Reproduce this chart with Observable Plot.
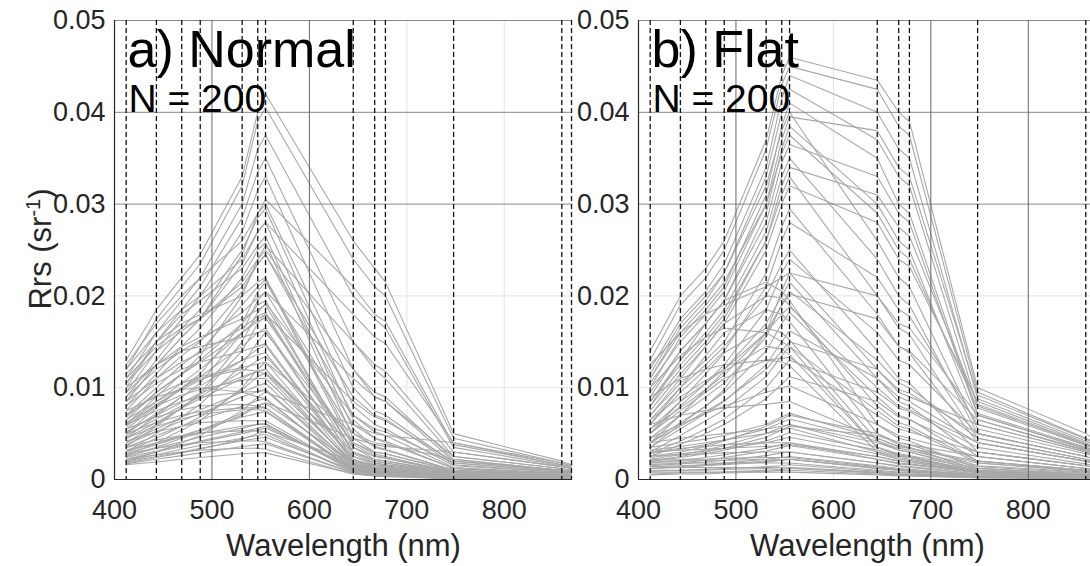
<!DOCTYPE html>
<html>
<head>
<meta charset="utf-8">
<script src="https://cdn.jsdelivr.net/npm/d3@7"></script>
<script src="https://cdn.jsdelivr.net/npm/@observablehq/plot@0.6"></script>
<style>
  html, body { margin: 0; padding: 0; background: #fff; overflow: hidden; }
  #wrap { position: relative; width: 1100px; height: 566px; display: flex; font-family: "Liberation Sans", Arial, Helvetica, sans-serif; }
  #ylab { position: absolute; left: 40px; top: 249px; transform: translate(-50%, -50%) rotate(-90deg); transform-origin: center; font-size: 31px; color: #262626; white-space: nowrap; line-height: 1; }
  #ylab sup { font-size: 20px; vertical-align: 0.55em; line-height: 0; }
</style>
</head>
<body>
<div id="wrap"><div id="ylab">Rrs (sr<sup>-1</sup>)</div></div>
<script>
// MODIS band centres (nm), marked by dashed lines
const wavelengths = [412, 443, 469, 488, 531, 547, 555, 645, 667, 678, 748, 859, 869];
const xTicks = [400, 500, 600, 700, 800];
const yTicks = [0, 0.01, 0.02, 0.03, 0.04, 0.05];
const panelTitles = ["a) Normal", "b) Flat"];
const sampleLabel = "N = 200";

// a) Normal spectra, Rrs (sr^-1) at each band
const normalSpectra = [
  [0.0130,0.0185,0.0220,0.0245,0.0330,0.0400,0.0420,0.0260,0.0230,0.0215,0.0050,0.0020,0.0016],
  [0.0120,0.0175,0.0210,0.0235,0.0320,0.0390,0.0405,0.0240,0.0210,0.0200,0.0045,0.0018,0.0015],
  [0.0110,0.0160,0.0195,0.0220,0.0300,0.0360,0.0375,0.0200,0.0175,0.0165,0.0035,0.0015,0.0012],
  [0.0100,0.0150,0.0185,0.0210,0.0285,0.0335,0.0350,0.0150,0.0120,0.0110,0.0025,0.0012,0.0010],
  [0.0095,0.0140,0.0175,0.0200,0.0270,0.0315,0.0330,0.0120,0.0090,0.0085,0.0020,0.0010,0.0009],
  [0.0125,0.0170,0.0200,0.0220,0.0260,0.0290,0.0300,0.0100,0.0075,0.0070,0.0018,0.0009,0.0008],
  [0.0090,0.0130,0.0165,0.0185,0.0250,0.0285,0.0295,0.0080,0.0060,0.0055,0.0015,0.0008,0.0007],
  [0.0085,0.0125,0.0155,0.0175,0.0235,0.0270,0.0280,0.0065,0.0045,0.0040,0.0012,0.0007,0.0006],
  [0.0105,0.0150,0.0180,0.0195,0.0230,0.0255,0.0265,0.0055,0.0035,0.0032,0.0010,0.0006,0.0005],
  [0.0080,0.0115,0.0145,0.0165,0.0220,0.0250,0.0258,0.0045,0.0030,0.0028,0.0009,0.0005,0.0004],
  [0.0115,0.0150,0.0170,0.0180,0.0200,0.0215,0.0220,0.0040,0.0028,0.0025,0.0008,0.0005,0.0004],
  [0.0070,0.0100,0.0125,0.0140,0.0190,0.0210,0.0218,0.0035,0.0022,0.0020,0.0007,0.0004,0.0004],
  [0.0095,0.0125,0.0145,0.0155,0.0175,0.0185,0.0190,0.0030,0.0020,0.0018,0.0007,0.0004,0.0003],
  [0.0065,0.0095,0.0115,0.0130,0.0170,0.0190,0.0195,0.0028,0.0018,0.0016,0.0006,0.0004,0.0003],
  [0.0060,0.0085,0.0105,0.0120,0.0160,0.0175,0.0180,0.0025,0.0016,0.0015,0.0006,0.0003,0.0003],
  [0.0100,0.0125,0.0140,0.0145,0.0155,0.0160,0.0162,0.0022,0.0015,0.0014,0.0005,0.0003,0.0003],
  [0.0055,0.0080,0.0100,0.0112,0.0145,0.0160,0.0165,0.0022,0.0014,0.0013,0.0005,0.0003,0.0002],
  [0.0080,0.0105,0.0120,0.0128,0.0140,0.0145,0.0148,0.0020,0.0013,0.0012,0.0005,0.0003,0.0002],
  [0.0050,0.0072,0.0090,0.0102,0.0130,0.0142,0.0146,0.0018,0.0012,0.0011,0.0004,0.0002,0.0002],
  [0.0070,0.0092,0.0105,0.0112,0.0122,0.0126,0.0128,0.0017,0.0011,0.0010,0.0004,0.0002,0.0002],
  [0.0060,0.0090,0.0115,0.0135,0.0200,0.0240,0.0255,0.0150,0.0125,0.0118,0.0030,0.0014,0.0012],
  [0.0045,0.0070,0.0090,0.0105,0.0160,0.0195,0.0205,0.0110,0.0090,0.0085,0.0025,0.0012,0.0010],
  [0.0040,0.0060,0.0078,0.0092,0.0140,0.0170,0.0180,0.0085,0.0068,0.0064,0.0020,0.0010,0.0009],
  [0.0075,0.0090,0.0098,0.0100,0.0095,0.0090,0.0088,0.0012,0.0008,0.0008,0.0003,0.0002,0.0002],
  [0.0045,0.0062,0.0078,0.0088,0.0110,0.0118,0.0120,0.0015,0.0010,0.0009,0.0004,0.0002,0.0002],
  [0.0060,0.0075,0.0085,0.0090,0.0095,0.0096,0.0097,0.0013,0.0009,0.0008,0.0003,0.0002,0.0001],
  [0.0040,0.0055,0.0068,0.0076,0.0095,0.0102,0.0105,0.0014,0.0009,0.0008,0.0003,0.0002,0.0001],
  [0.0050,0.0062,0.0070,0.0074,0.0078,0.0078,0.0078,0.0011,0.0007,0.0007,0.0003,0.0002,0.0001],
  [0.0035,0.0048,0.0058,0.0065,0.0080,0.0086,0.0088,0.0012,0.0008,0.0007,0.0003,0.0001,0.0001],
  [0.0042,0.0052,0.0058,0.0062,0.0064,0.0064,0.0064,0.0010,0.0006,0.0006,0.0002,0.0001,0.0001],
  [0.0030,0.0040,0.0048,0.0054,0.0068,0.0072,0.0074,0.0010,0.0007,0.0006,0.0002,0.0001,0.0001],
  [0.0035,0.0043,0.0048,0.0051,0.0053,0.0053,0.0052,0.0008,0.0005,0.0005,0.0002,0.0001,0.0001],
  [0.0025,0.0034,0.0041,0.0046,0.0056,0.0060,0.0061,0.0009,0.0006,0.0005,0.0002,0.0001,0.0001],
  [0.0028,0.0034,0.0038,0.0040,0.0042,0.0042,0.0041,0.0007,0.0005,0.0004,0.0002,0.0001,0.0001],
  [0.0020,0.0027,0.0033,0.0037,0.0045,0.0048,0.0049,0.0008,0.0005,0.0005,0.0002,0.0001,0.0001],
  [0.0022,0.0027,0.0030,0.0032,0.0034,0.0034,0.0033,0.0006,0.0004,0.0004,0.0001,0.0001,0.0001],
  [0.0017,0.0022,0.0026,0.0029,0.0036,0.0038,0.0039,0.0007,0.0004,0.0004,0.0001,0.0001,0.0001],
  [0.0016,0.0019,0.0022,0.0024,0.0028,0.0029,0.0029,0.0006,0.0004,0.0003,0.0001,0.0001,0.0000],
  [0.0055,0.0068,0.0076,0.0080,0.0082,0.0080,0.0078,0.0010,0.0007,0.0006,0.0002,0.0001,0.0001],
  [0.0065,0.0085,0.0100,0.0110,0.0120,0.0118,0.0115,0.0016,0.0011,0.0010,0.0004,0.0002,0.0002],
  [0.0020,0.0030,0.0040,0.0048,0.0075,0.0090,0.0095,0.0060,0.0050,0.0048,0.0040,0.0018,0.0015],
  [0.0025,0.0035,0.0045,0.0052,0.0070,0.0080,0.0084,0.0045,0.0038,0.0036,0.0030,0.0014,0.0012],
  [0.0110,0.0145,0.0165,0.0175,0.0210,0.0235,0.0245,0.0070,0.0052,0.0048,0.0013,0.0007,0.0006],
  [0.0075,0.0110,0.0135,0.0150,0.0205,0.0235,0.0245,0.0090,0.0070,0.0066,0.0016,0.0008,0.0007],
  [0.0050,0.0078,0.0100,0.0115,0.0170,0.0205,0.0215,0.0060,0.0045,0.0042,0.0012,0.0006,0.0005],
  [0.0120,0.0160,0.0185,0.0200,0.0240,0.0270,0.0280,0.0180,0.0155,0.0148,0.0040,0.0016,0.0013],
  [0.0030,0.0050,0.0068,0.0082,0.0125,0.0150,0.0160,0.0040,0.0030,0.0028,0.0010,0.0005,0.0004],
  [0.0085,0.0110,0.0128,0.0138,0.0165,0.0178,0.0182,0.0030,0.0020,0.0018,0.0006,0.0003,0.0003],
  [0.0058,0.0082,0.0098,0.0108,0.0130,0.0136,0.0138,0.0020,0.0013,0.0012,0.0004,0.0002,0.0002],
  [0.0038,0.0052,0.0064,0.0072,0.0090,0.0096,0.0098,0.0016,0.0011,0.0010,0.0004,0.0002,0.0002],
  [0.0028,0.0038,0.0047,0.0054,0.0072,0.0080,0.0083,0.0018,0.0012,0.0011,0.0005,0.0003,0.0002],
  [0.0024,0.0031,0.0037,0.0042,0.0052,0.0056,0.0058,0.0012,0.0008,0.0008,0.0004,0.0002,0.0002],
  [0.0019,0.0025,0.0030,0.0034,0.0042,0.0045,0.0046,0.0010,0.0007,0.0006,0.0003,0.0002,0.0001],
  [0.0032,0.0040,0.0046,0.0050,0.0058,0.0060,0.0060,0.0011,0.0007,0.0007,0.0003,0.0002,0.0001],
  [0.0045,0.0058,0.0066,0.0071,0.0076,0.0076,0.0075,0.0012,0.0008,0.0007,0.0003,0.0002,0.0001],
  [0.0052,0.0070,0.0084,0.0094,0.0112,0.0118,0.0120,0.0025,0.0018,0.0016,0.0006,0.0003,0.0003],
  [0.0068,0.0095,0.0115,0.0128,0.0160,0.0172,0.0176,0.0038,0.0026,0.0024,0.0008,0.0004,0.0003],
  [0.0090,0.0120,0.0140,0.0152,0.0182,0.0198,0.0204,0.0050,0.0036,0.0033,0.0010,0.0005,0.0004],
  [0.0036,0.0058,0.0078,0.0094,0.0150,0.0182,0.0192,0.0070,0.0055,0.0052,0.0018,0.0009,0.0008],
  [0.0026,0.0040,0.0054,0.0064,0.0100,0.0120,0.0128,0.0050,0.0040,0.0038,0.0022,0.0010,0.0009],
  [0.0018,0.0024,0.0029,0.0033,0.0044,0.0050,0.0052,0.0020,0.0016,0.0015,0.0012,0.0006,0.0005],
  [0.0030,0.0045,0.0058,0.0068,0.0098,0.0112,0.0116,0.0030,0.0022,0.0020,0.0008,0.0004,0.0004],
  [0.0062,0.0080,0.0092,0.0098,0.0108,0.0110,0.0110,0.0018,0.0012,0.0011,0.0004,0.0002,0.0002],
  [0.0048,0.0066,0.0080,0.0090,0.0118,0.0130,0.0134,0.0035,0.0025,0.0023,0.0008,0.0004,0.0004],
  [0.0105,0.0140,0.0162,0.0175,0.0215,0.0240,0.0250,0.0120,0.0095,0.0090,0.0022,0.0010,0.0009],
  [0.0085,0.0125,0.0155,0.0175,0.0245,0.0290,0.0305,0.0210,0.0180,0.0172,0.0038,0.0016,0.0014],
  [0.0022,0.0030,0.0036,0.0041,0.0050,0.0054,0.0056,0.0014,0.0010,0.0009,0.0005,0.0003,0.0002]
];

// b) Flat spectra, Rrs (sr^-1) at each band
const flatSpectra = [
  [0.0140,0.0200,0.0230,0.0260,0.0370,0.0440,0.0460,0.0435,0.0400,0.0390,0.0100,0.0050,0.0043],
  [0.0130,0.0190,0.0220,0.0250,0.0360,0.0430,0.0450,0.0425,0.0385,0.0375,0.0095,0.0045,0.0040],
  [0.0120,0.0175,0.0205,0.0235,0.0340,0.0415,0.0440,0.0400,0.0360,0.0350,0.0088,0.0042,0.0037],
  [0.0110,0.0165,0.0195,0.0225,0.0330,0.0400,0.0425,0.0370,0.0330,0.0320,0.0080,0.0038,0.0034],
  [0.0100,0.0155,0.0185,0.0210,0.0310,0.0385,0.0410,0.0350,0.0300,0.0290,0.0072,0.0035,0.0031],
  [0.0090,0.0140,0.0170,0.0195,0.0290,0.0360,0.0385,0.0300,0.0260,0.0250,0.0065,0.0031,0.0028],
  [0.0115,0.0170,0.0200,0.0225,0.0320,0.0380,0.0400,0.0260,0.0220,0.0210,0.0055,0.0028,0.0025],
  [0.0085,0.0130,0.0160,0.0185,0.0270,0.0330,0.0350,0.0240,0.0200,0.0190,0.0050,0.0025,0.0022],
  [0.0080,0.0120,0.0150,0.0175,0.0260,0.0310,0.0330,0.0200,0.0165,0.0158,0.0045,0.0022,0.0020],
  [0.0095,0.0140,0.0170,0.0195,0.0280,0.0345,0.0365,0.0330,0.0290,0.0280,0.0070,0.0033,0.0030],
  [0.0070,0.0105,0.0130,0.0150,0.0225,0.0275,0.0295,0.0180,0.0145,0.0138,0.0040,0.0020,0.0018],
  [0.0060,0.0095,0.0120,0.0140,0.0210,0.0260,0.0280,0.0220,0.0185,0.0178,0.0060,0.0030,0.0026],
  [0.0065,0.0100,0.0125,0.0145,0.0200,0.0235,0.0250,0.0140,0.0110,0.0105,0.0030,0.0015,0.0013],
  [0.0050,0.0080,0.0105,0.0125,0.0185,0.0225,0.0240,0.0160,0.0130,0.0125,0.0050,0.0025,0.0022],
  [0.0055,0.0085,0.0105,0.0120,0.0170,0.0200,0.0215,0.0110,0.0085,0.0080,0.0025,0.0012,0.0011],
  [0.0045,0.0070,0.0090,0.0105,0.0155,0.0190,0.0205,0.0130,0.0105,0.0100,0.0045,0.0022,0.0019],
  [0.0040,0.0062,0.0080,0.0095,0.0140,0.0170,0.0182,0.0090,0.0070,0.0066,0.0020,0.0010,0.0009],
  [0.0035,0.0055,0.0072,0.0085,0.0125,0.0150,0.0162,0.0110,0.0090,0.0085,0.0040,0.0020,0.0017],
  [0.0030,0.0048,0.0064,0.0076,0.0112,0.0135,0.0145,0.0075,0.0058,0.0055,0.0018,0.0009,0.0008],
  [0.0028,0.0042,0.0055,0.0066,0.0100,0.0120,0.0130,0.0095,0.0078,0.0074,0.0035,0.0017,0.0015],
  [0.0080,0.0130,0.0170,0.0195,0.0215,0.0205,0.0195,0.0060,0.0045,0.0042,0.0012,0.0006,0.0005],
  [0.0060,0.0100,0.0135,0.0160,0.0185,0.0180,0.0172,0.0050,0.0038,0.0035,0.0010,0.0005,0.0004],
  [0.0050,0.0085,0.0115,0.0138,0.0165,0.0160,0.0152,0.0042,0.0032,0.0030,0.0009,0.0004,0.0004],
  [0.0100,0.0135,0.0155,0.0165,0.0160,0.0150,0.0145,0.0035,0.0026,0.0024,0.0008,0.0004,0.0003],
  [0.0025,0.0030,0.0036,0.0042,0.0058,0.0066,0.0070,0.0050,0.0040,0.0038,0.0015,0.0008,0.0007],
  [0.0022,0.0027,0.0032,0.0037,0.0050,0.0057,0.0060,0.0040,0.0032,0.0030,0.0012,0.0006,0.0005],
  [0.0020,0.0024,0.0028,0.0032,0.0042,0.0048,0.0051,0.0032,0.0025,0.0024,0.0010,0.0005,0.0004],
  [0.0030,0.0032,0.0033,0.0034,0.0036,0.0037,0.0038,0.0025,0.0020,0.0019,0.0008,0.0004,0.0004],
  [0.0018,0.0021,0.0024,0.0027,0.0034,0.0038,0.0040,0.0025,0.0020,0.0019,0.0008,0.0004,0.0003],
  [0.0026,0.0027,0.0028,0.0029,0.0030,0.0030,0.0030,0.0018,0.0015,0.0014,0.0006,0.0003,0.0003],
  [0.0015,0.0017,0.0019,0.0021,0.0026,0.0029,0.0030,0.0018,0.0014,0.0013,0.0006,0.0003,0.0003],
  [0.0022,0.0022,0.0022,0.0023,0.0024,0.0024,0.0024,0.0014,0.0011,0.0010,0.0005,0.0003,0.0002],
  [0.0012,0.0013,0.0015,0.0016,0.0019,0.0021,0.0022,0.0012,0.0010,0.0009,0.0004,0.0002,0.0002],
  [0.0018,0.0018,0.0018,0.0018,0.0018,0.0018,0.0018,0.0010,0.0008,0.0008,0.0004,0.0002,0.0002],
  [0.0010,0.0010,0.0011,0.0012,0.0014,0.0015,0.0016,0.0009,0.0007,0.0007,0.0003,0.0002,0.0001],
  [0.0014,0.0013,0.0013,0.0013,0.0013,0.0013,0.0013,0.0007,0.0006,0.0005,0.0003,0.0001,0.0001],
  [0.0008,0.0008,0.0008,0.0008,0.0009,0.0010,0.0010,0.0006,0.0005,0.0004,0.0002,0.0001,0.0001],
  [0.0040,0.0045,0.0048,0.0050,0.0055,0.0058,0.0060,0.0035,0.0028,0.0026,0.0012,0.0006,0.0005],
  [0.0035,0.0040,0.0044,0.0048,0.0060,0.0068,0.0072,0.0045,0.0036,0.0034,0.0018,0.0009,0.0008],
  [0.0005,0.0006,0.0006,0.0007,0.0008,0.0008,0.0008,0.0005,0.0004,0.0004,0.0002,0.0001,0.0001],
  [0.0125,0.0160,0.0180,0.0190,0.0210,0.0220,0.0225,0.0120,0.0095,0.0090,0.0060,0.0030,0.0026],
  [0.0090,0.0110,0.0120,0.0125,0.0130,0.0132,0.0133,0.0070,0.0055,0.0052,0.0030,0.0015,0.0013],
  [0.0060,0.0070,0.0075,0.0078,0.0082,0.0084,0.0085,0.0045,0.0036,0.0034,0.0020,0.0010,0.0009],
  [0.0045,0.0060,0.0072,0.0080,0.0095,0.0100,0.0102,0.0060,0.0048,0.0045,0.0025,0.0012,0.0011],
  [0.0105,0.0150,0.0180,0.0205,0.0300,0.0370,0.0395,0.0380,0.0340,0.0330,0.0092,0.0044,0.0039],
  [0.0075,0.0115,0.0145,0.0170,0.0250,0.0300,0.0320,0.0280,0.0240,0.0232,0.0085,0.0040,0.0035],
  [0.0035,0.0060,0.0080,0.0098,0.0160,0.0205,0.0225,0.0200,0.0170,0.0165,0.0070,0.0034,0.0030],
  [0.0016,0.0018,0.0021,0.0024,0.0031,0.0035,0.0037,0.0022,0.0017,0.0016,0.0007,0.0004,0.0003],
  [0.0028,0.0033,0.0038,0.0043,0.0055,0.0062,0.0066,0.0042,0.0034,0.0032,0.0014,0.0007,0.0006],
  [0.0012,0.0014,0.0016,0.0018,0.0022,0.0024,0.0025,0.0015,0.0012,0.0011,0.0005,0.0003,0.0002],
  [0.0020,0.0020,0.0021,0.0021,0.0022,0.0022,0.0022,0.0012,0.0010,0.0009,0.0004,0.0002,0.0002],
  [0.0009,0.0010,0.0010,0.0011,0.0012,0.0013,0.0013,0.0008,0.0006,0.0006,0.0003,0.0001,0.0001],
  [0.0024,0.0028,0.0031,0.0034,0.0040,0.0044,0.0046,0.0028,0.0022,0.0021,0.0009,0.0005,0.0004],
  [0.0032,0.0036,0.0040,0.0043,0.0050,0.0054,0.0056,0.0030,0.0024,0.0022,0.0010,0.0005,0.0004],
  [0.0006,0.0007,0.0007,0.0008,0.0010,0.0011,0.0012,0.0007,0.0005,0.0005,0.0002,0.0001,0.0001],
  [0.0040,0.0058,0.0074,0.0086,0.0120,0.0140,0.0150,0.0120,0.0098,0.0094,0.0050,0.0025,0.0022],
  [0.0055,0.0078,0.0098,0.0114,0.0160,0.0190,0.0202,0.0175,0.0145,0.0140,0.0065,0.0032,0.0028],
  [0.0025,0.0038,0.0050,0.0060,0.0088,0.0104,0.0112,0.0085,0.0068,0.0065,0.0030,0.0015,0.0013],
  [0.0070,0.0110,0.0145,0.0170,0.0200,0.0198,0.0190,0.0080,0.0062,0.0058,0.0020,0.0010,0.0009],
  [0.0040,0.0070,0.0098,0.0118,0.0145,0.0142,0.0136,0.0035,0.0027,0.0025,0.0008,0.0004,0.0003],
  [0.0030,0.0034,0.0036,0.0038,0.0040,0.0040,0.0040,0.0022,0.0018,0.0017,0.0008,0.0004,0.0003],
  [0.0110,0.0160,0.0190,0.0215,0.0300,0.0355,0.0375,0.0290,0.0250,0.0240,0.0078,0.0037,0.0033],
  [0.0065,0.0090,0.0108,0.0120,0.0160,0.0180,0.0188,0.0100,0.0080,0.0076,0.0040,0.0020,0.0018],
  [0.0014,0.0015,0.0016,0.0017,0.0020,0.0021,0.0022,0.0013,0.0010,0.0010,0.0004,0.0002,0.0002],
  [0.0050,0.0075,0.0095,0.0110,0.0130,0.0128,0.0124,0.0030,0.0022,0.0021,0.0007,0.0003,0.0003],
  [0.0020,0.0025,0.0030,0.0034,0.0046,0.0054,0.0058,0.0048,0.0040,0.0038,0.0025,0.0012,0.0011],
  [0.0085,0.0125,0.0155,0.0180,0.0260,0.0320,0.0340,0.0310,0.0275,0.0265,0.0082,0.0039,0.0034]
];

// Grid line shading as seen in each panel
const gridA = { darkY: [0.03, 0.04, 0.05], lightY: [0.01, 0.02], darkX: [500, 600], lightX: [700, 800] };
const gridB = { darkY: [0.03, 0.04, 0.05], lightY: [0.01, 0.02], darkX: [500, 700, 800], lightX: [600] };

function toRows(spectra) {
  return spectra.flatMap((s, i) => s.map((v, j) => ({ id: i, wl: wavelengths[j], rrs: v })));
}

const FONT = '"Liberation Sans", Arial, Helvetica, sans-serif';
const INK = "#262626";

function panel(spectra, title, grid, opts) {
  return Plot.plot({
    width: opts.width,
    height: 566,
    marginLeft: opts.marginLeft,
    marginRight: opts.marginRight,
    marginTop: 20,
    marginBottom: 87,
    style: { fontFamily: FONT, background: "transparent", color: INK, overflow: "visible" },
    x: { domain: [400, 870] },
    y: { domain: [0, 0.05] },
    marks: [
      Plot.ruleY(grid.lightY, { stroke: "#e4e4e4", strokeWidth: 1 }),
      Plot.ruleX(grid.lightX, { stroke: "#e4e4e4", strokeWidth: 1 }),
      Plot.line(toRows(spectra), { x: "wl", y: "rrs", z: "id", stroke: "#a8a8a8", strokeWidth: 1.1 }),
      Plot.ruleY(grid.darkY, { stroke: "#888", strokeWidth: 1 }),
      Plot.ruleX(grid.darkX, { stroke: "#666", strokeWidth: 1 }),
      Plot.ruleX(wavelengths, { stroke: "#111", strokeWidth: 1.3, strokeDasharray: "5,3" }),
      Plot.ruleY([0], { stroke: INK, strokeWidth: 1.2 }),
      Plot.ruleX([400], { stroke: INK, strokeWidth: 1.2 }),
      Plot.axisY({ ticks: yTicks, tickSize: 0, tickPadding: 9, fontSize: 27, label: null,
                   tickFormat: d => d === 0 ? "0" : String(d) }),
      Plot.axisX({ ticks: xTicks, tickSize: 0, tickPadding: 20, fontSize: 27, label: null,
                   tickFormat: d => String(d) }),
      Plot.text(["Wavelength (nm)"], { frameAnchor: "bottom", dy: 76, fontSize: 31, fill: INK }),
      Plot.text([title], { frameAnchor: "top-left", textAnchor: "start", lineAnchor: "top", dx: 13, dy: 10, fontSize: 52, fill: "#000" }),
      Plot.text([sampleLabel], { frameAnchor: "top-left", textAnchor: "start", lineAnchor: "top", dx: 14, dy: 64, fontSize: 39, fill: "#000" })
    ]
  });
}

const wrap = document.getElementById("wrap");
const a = panel(normalSpectra, panelTitles[0], gridA, { width: 580, marginLeft: 114, marginRight: 8 });
const b = panel(flatSpectra, panelTitles[1], gridB, { width: 524, marginLeft: 58, marginRight: 8 });
a.style.flex = "none"; b.style.flex = "none";
wrap.appendChild(a);
wrap.appendChild(b);
</script>
</body>
</html>
